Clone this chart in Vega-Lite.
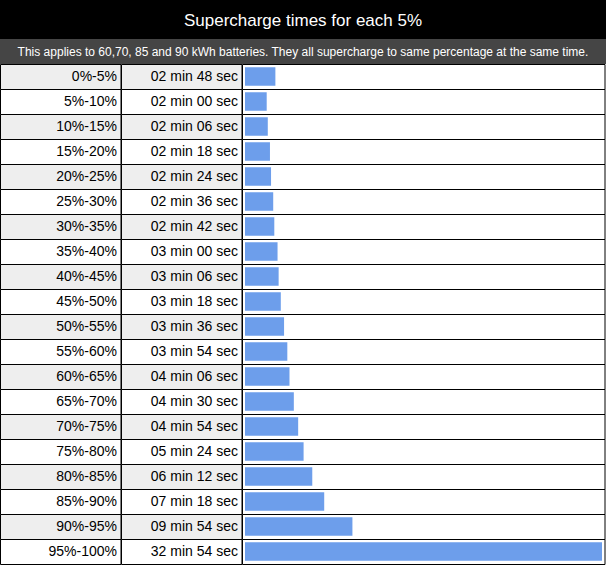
{
  "$schema": "https://vega.github.io/schema/vega-lite/v6.json",
  "padding": 0,
  "background": "white",
  "bounds": "flush",
  "datasets": {
    "rows": [
      {"range": "0%-5%", "time": "02 min 48 sec", "seconds": 168},
      {"range": "5%-10%", "time": "02 min 00 sec", "seconds": 120},
      {"range": "10%-15%", "time": "02 min 06 sec", "seconds": 126},
      {"range": "15%-20%", "time": "02 min 18 sec", "seconds": 138},
      {"range": "20%-25%", "time": "02 min 24 sec", "seconds": 144},
      {"range": "25%-30%", "time": "02 min 36 sec", "seconds": 156},
      {"range": "30%-35%", "time": "02 min 42 sec", "seconds": 162},
      {"range": "35%-40%", "time": "03 min 00 sec", "seconds": 180},
      {"range": "40%-45%", "time": "03 min 06 sec", "seconds": 186},
      {"range": "45%-50%", "time": "03 min 18 sec", "seconds": 198},
      {"range": "50%-55%", "time": "03 min 36 sec", "seconds": 216},
      {"range": "55%-60%", "time": "03 min 54 sec", "seconds": 234},
      {"range": "60%-65%", "time": "04 min 06 sec", "seconds": 246},
      {"range": "65%-70%", "time": "04 min 30 sec", "seconds": 270},
      {"range": "70%-75%", "time": "04 min 54 sec", "seconds": 294},
      {"range": "75%-80%", "time": "05 min 24 sec", "seconds": 324},
      {"range": "80%-85%", "time": "06 min 12 sec", "seconds": 372},
      {"range": "85%-90%", "time": "07 min 18 sec", "seconds": 438},
      {"range": "90%-95%", "time": "09 min 54 sec", "seconds": 594},
      {"range": "95%-100%", "time": "32 min 54 sec", "seconds": 1974}
    ]
  },
  "config": {
    "view": {"stroke": null},
    "concat": {"spacing": 0},
    "font": "Liberation Sans",
    "axis": {"disable": true}
  },
  "vconcat": [
    {
      "width": 606,
      "height": 39,
      "view": {"fill": "#000000", "stroke": null},
      "data": {"values": [{"title": "Supercharge times for each 5%"}]},
      "mark": {"type": "text", "color": "white", "fontSize": 17, "baseline": "middle", "dy": 1, "font": "Liberation Sans"},
      "encoding": {"text": {"field": "title"}}
    },
    {
      "width": 606,
      "height": 25,
      "view": {"fill": "#454545", "stroke": null},
      "data": {"values": [{"note": "This applies to 60,70, 85 and 90 kWh batteries. They all supercharge to same percentage at the same time."}]},
      "mark": {"type": "text", "color": "white", "fontSize": 12, "baseline": "middle", "font": "Liberation Sans"},
      "encoding": {"text": {"field": "note"}}
    },
    {
      "data": {"name": "rows"},
      "bounds": "flush",
      "transform": [{"window": [{"op": "row_number", "as": "rn"}]}],
      "hconcat": [
        {
          "width": 121,
          "height": 500,
          "encoding": {
            "y": {"field": "range", "type": "nominal", "sort": null, "scale": {"padding": 0}, "axis": null}
          },
          "layer": [
            {
              "mark": {"type": "rect", "stroke": "black", "strokeWidth": 1, "xOffset": 0.5, "yOffset": 0.5},
              "encoding": {
                "x": {"value": 0},
                "x2": {"value": "width"},
                "fill": {"condition": {"test": "datum.rn % 2 == 1", "value": "#eeeeee"}, "value": "white"}
              }
            },
            {
              "mark": {"type": "text", "align": "right", "baseline": "middle", "dx": -4, "fontSize": 14, "color": "black"},
              "encoding": {"x": {"value": "width"}, "text": {"field": "range"}}
            }
          ]
        },
        {
          "width": 121,
          "height": 500,
          "encoding": {
            "y": {"field": "range", "type": "nominal", "sort": null, "scale": {"padding": 0}, "axis": null}
          },
          "layer": [
            {
              "mark": {"type": "rect", "stroke": "black", "strokeWidth": 1, "xOffset": 0.5, "yOffset": 0.5},
              "encoding": {
                "x": {"value": 0},
                "x2": {"value": "width"},
                "fill": {"condition": {"test": "datum.rn % 2 == 1", "value": "#eeeeee"}, "value": "white"}
              }
            },
            {
              "mark": {"type": "text", "align": "right", "baseline": "middle", "dx": -4, "fontSize": 14, "color": "black"},
              "encoding": {"x": {"value": "width"}, "text": {"field": "time"}}
            }
          ]
        },
        {
          "width": 363,
          "height": 500,
          "encoding": {
            "y": {"field": "range", "type": "nominal", "sort": null, "scale": {"padding": 0}, "axis": null}
          },
          "layer": [
            {
              "mark": {"type": "rect", "stroke": "black", "strokeWidth": 1, "fill": "white", "xOffset": 0.5, "yOffset": 0.5},
              "encoding": {
                "x": {"value": 0},
                "x2": {"value": "width"}
              }
            },
            {
              "mark": {"type": "bar", "color": "#6d9eeb", "height": {"band": 0.74}},
              "encoding": {
                "x": {"field": "seconds", "type": "quantitative", "scale": {"range": [3, 360], "nice": false}, "axis": null}
              }
            }
          ]
        }
      ]
    }
  ]
}
